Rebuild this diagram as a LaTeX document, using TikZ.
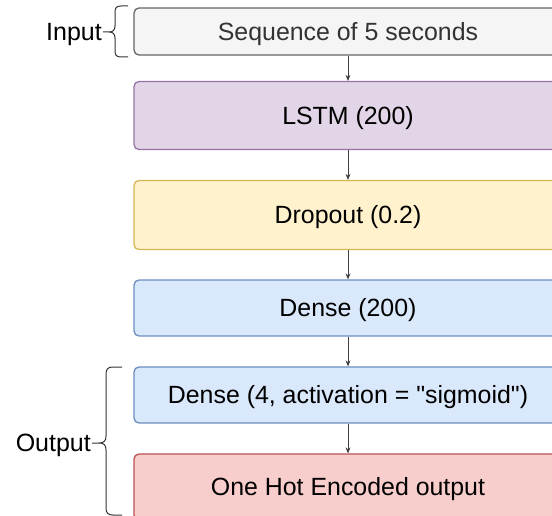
\documentclass[tikz,border=0pt]{standalone}
\usepackage{fontspec}
\setmainfont{Liberation Sans}
\usetikzlibrary{arrows.meta}
\definecolor{grayF}{HTML}{F5F5F5}\definecolor{grayD}{HTML}{666666}
\definecolor{purF}{HTML}{E1D5E7}\definecolor{purD}{HTML}{9673A6}
\definecolor{yelF}{HTML}{FFF2CC}\definecolor{yelD}{HTML}{D6B656}
\definecolor{bluF}{HTML}{DAE8FC}\definecolor{bluD}{HTML}{6C8EBF}
\definecolor{redF}{HTML}{F8CECC}\definecolor{redD}{HTML}{B85450}
\tikzset{
  layer/.style={draw, line width=1.3pt, rounded corners=5pt, minimum width=428pt, inner sep=0pt, text height=17.8pt, text depth=0pt, font=\fontsize{24.9}{29}\selectfont},
  link/.style={draw=black!75, line width=0.8pt, -{Stealth[length=6pt,width=5pt]}},
  bracestyle/.style={draw=black!80, line width=1pt},
  lbl/.style={font=\fontsize{25}{29}\selectfont, inner sep=0pt, text height=17.9pt, text depth=0pt}
}
\begin{document}
\begin{tikzpicture}[x=1pt,y=-1pt]
\useasboundingbox (0,0) rectangle (552,516);
\node[layer, fill=grayF, draw=grayD, minimum height=47pt, text=black!80] (in) at (348,31.5) {Sequence of 5 seconds};
\node[layer, fill=purF, draw=purD, minimum height=68pt] (lstm) at (348,115.5) {LSTM (200)};
\node[layer, fill=yelF, draw=yelD, minimum height=69pt] (drop) at (348,215) {Dropout (0.2)};
\node[layer, fill=bluF, draw=bluD, minimum height=56pt] (d1) at (348,308) {Dense (200)};
\node[layer, fill=bluF, draw=bluD, minimum height=56pt] (d2) at (348,395) {Dense (4, activation = \textquotedbl sigmoid\textquotedbl)};
\node[layer, fill=redF, draw=redD, minimum height=66pt] (oh) at (348,487) {One Hot Encoded output};
\draw[link] (in) -- (lstm);
\draw[link] (lstm) -- (drop);
\draw[link] (drop) -- (d1);
\draw[link] (d1) -- (d2);
\draw[link] (d2) -- (oh);
% input brace
\draw[bracestyle] (128,6) -- (121,6) .. controls (116.5,6) and (115,8) .. (115,12) -- (115,26) .. controls (115,30) and (113,32) .. (109,32) -- (103,32)
  (109,32) .. controls (113,32) and (115,34) .. (115,38) -- (115,51) .. controls (115,55) and (116.5,57) .. (121,57) -- (128,57);
\node[lbl, anchor=east] (inlbl) at (102,32) {Input};
% output brace
\draw[bracestyle] (122,367) -- (113,367) .. controls (108,367) and (106,369) .. (106,374) -- (106,436) .. controls (106,441) and (104,443) .. (99,443) -- (92,443)
  (99,443) .. controls (104,443) and (106,445) .. (106,450) -- (106,508) .. controls (106,513) and (108,515) .. (113,515) -- (122,515);
\node[lbl, anchor=east] (outlbl) at (91,443) {Output};
\end{tikzpicture}
\end{document}
